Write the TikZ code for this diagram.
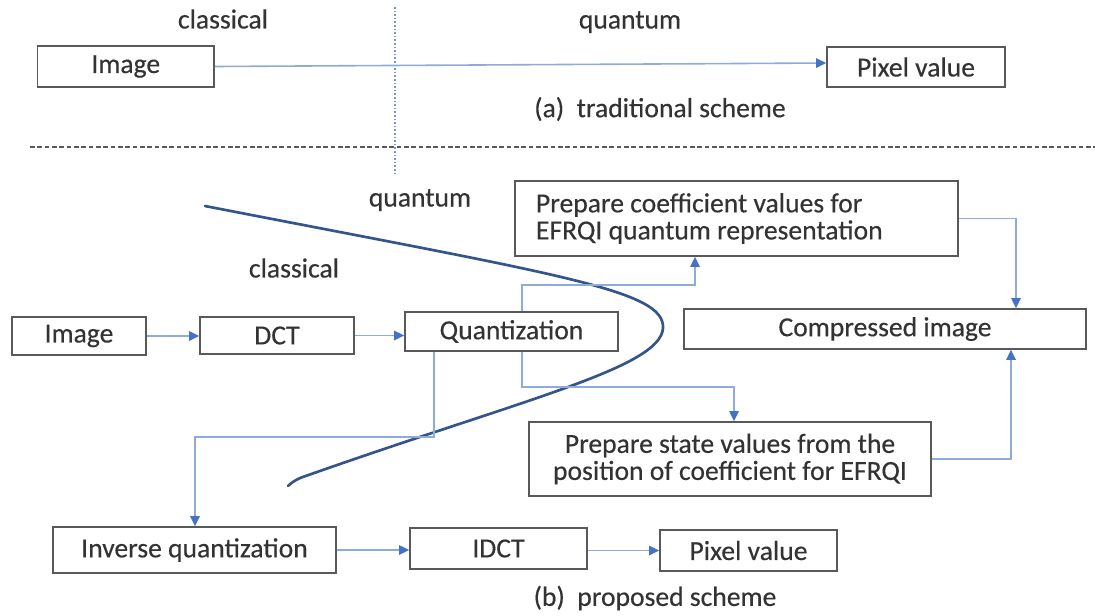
\documentclass[tikz,border=0pt]{standalone}
\usepackage{fontspec}
\setmainfont{Carlito}[FakeBold=0.35]
\usetikzlibrary{arrows.meta,calc}
\definecolor{boxgray}{HTML}{595959}
\definecolor{txtgray}{HTML}{333333}
\definecolor{connblue}{HTML}{8FAADC}
\definecolor{tipblue}{HTML}{4472C4}
\definecolor{curveblue}{HTML}{34558B}
\definecolor{dotblue}{HTML}{8096BA}
\begin{document}
\begin{tikzpicture}[x=0.75pt,y=-0.75pt,
  every node/.style={font=\fontsize{20.7pt}{20.3pt}\selectfont, text=txtgray},
  box/.style={draw=boxgray, line width=1.2pt, inner sep=0pt, align=center},
  conn/.style={draw=connblue, line width=1.2pt, -{Triangle[length=7.5pt,width=7pt,color=tipblue]}},
  lbl/.style={inner sep=0pt}]
\useasboundingbox (0,0) rectangle (1095,615);

% separators
\draw[dotblue, line width=1pt, dash pattern=on 1.2pt off 1.5pt] (395,7) -- (395,175);
\draw[boxgray, line width=0.9pt, dash pattern=on 3.5pt off 2pt] (30,147) -- (1095,147);

% (a) traditional scheme
\node[lbl] (clsA) at (223,19) {classical};
\node[lbl] (qntA) at (630,22) {quantum};
\node[box, minimum width=132.4pt, minimum height=30.75pt] (imgA) at (125.75,66.5) {Image};
\node[box, minimum width=133.5pt, minimum height=30pt] (pixA) at (916,67) {Pixel value};
\node[lbl] (capA) at (660,109) {(a)\ \ traditional scheme};

% (b) proposed scheme
\node[lbl] (qntB) at (420,200) {quantum};
\node[lbl] (clsB) at (294,268) {classical};
\node[box, minimum width=100.5pt, minimum height=28.5pt] (imgB) at (79,336) {Image};
\node[box, minimum width=115.5pt, minimum height=27.75pt] (dct) at (277,335.5) {DCT};
\node[box, minimum width=159.75pt, minimum height=29.25pt] (quant) at (511.5,331.5) {Quantization};
\node[box, text width=300.75pt, inner xsep=15.75pt, align=flush left, minimum height=56.25pt] (prepC) at (736.5,218.5) {Prepare coefficient values for\\EFRQI quantum representation};
\node[box, minimum width=301.5pt, minimum height=30pt] (comp) at (885,329) {Compressed image};
\node[box, minimum width=301.5pt, minimum height=55.5pt] (prepS) at (730,459) {Prepare state values from the\\position of coefficient for EFRQI};
\node[box, minimum width=212.25pt, minimum height=34.5pt] (invq) at (194.5,550) {Inverse quantization};
\node[box, minimum width=132.75pt, minimum height=30.75pt] (idct) at (498.5,548.5) {IDCT};
\node[box, minimum width=132.75pt, minimum height=30.75pt] (pixB) at (748.5,550.5) {Pixel value};
\node[lbl] (capB) at (655,598) {(b)\ \ proposed scheme};

% boundary curve
\draw[curveblue, line width=2pt, line cap=round] (205,206) .. controls (560,275) and (665,290) .. (663,328)
  .. controls (661,368) and (520,400) .. (300,478) .. controls (294,481) and (291,483) .. (288,486);

% connectors
\draw[conn] (imgA.east) -- ([yshift=3pt]pixA.west);
\draw[conn] (imgB.east) -- (imgB.east -| dct.west);
\draw[conn] (dct.east) -- (dct.east -| quant.west);
\coordinate (qt) at ($(quant.north west)!0.55!(quant.north east)$);
\coordinate (qb) at ($(quant.south west)!0.55!(quant.south east)$);
\coordinate (qb2) at ($(quant.south west)!0.14!(quant.south east)$);
\draw[conn] (qt) |- (695,285) -- (695,285 |- prepC.south);
\draw[conn] (prepC.east) -| (1016,0 |- comp.north);
\draw[conn] (qb) |- (734,387) -- (734,387 |- prepS.north);
\draw[conn] (prepS.east) -| (1011,0 |- comp.south);
\draw[conn] (qb2) |- (195,437) -- (195,437 |- invq.north);
\draw[conn] (invq.east) -- (invq.east -| idct.west);
\draw[conn] (idct.east |- pixB.west) -- (pixB.west);
\end{tikzpicture}
\end{document}
